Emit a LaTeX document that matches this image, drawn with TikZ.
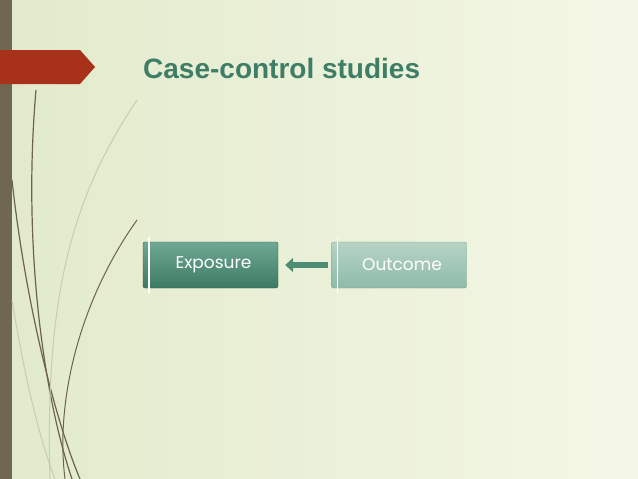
\documentclass[tikz,border=0pt]{standalone}
\usetikzlibrary{arrows.meta}
\usepackage{fontspec}
\setmainfont{Liberation Sans}
\newfontfamily\boxfont{Poppins}
\definecolor{bgA}{HTML}{E2EACB}
\definecolor{bgB}{HTML}{F4F7E6}
\definecolor{barc}{HTML}{6F6751}
\definecolor{bannerc}{HTML}{A8311A}
\definecolor{titlec}{HTML}{3F7E66}
\definecolor{bladec}{HTML}{6B6449}
\definecolor{bladel}{HTML}{C9CDAE}
\definecolor{expT}{HTML}{6FA893}
\definecolor{expB}{HTML}{3D7A64}
\definecolor{expD}{HTML}{2E5E4D}
\definecolor{outT}{HTML}{B7D3C6}
\definecolor{outB}{HTML}{8EBBA8}
\definecolor{outD}{HTML}{7AA190}
\definecolor{arrc}{HTML}{4E8C74}
\begin{document}
\begin{tikzpicture}[x=1pt,y=-1pt,
  blade/.style={draw=#1,line width=1pt},
  box/.style={draw=#1,rounded corners=2pt,minimum width=135pt,minimum height=46pt,inner sep=0pt,font=\boxfont\fontsize{17}{20}\selectfont,text=white},
]
\shade[left color=bgA, right color=bgB] (0,0) rectangle (638,479);
\useasboundingbox (0,0) rectangle (638,479);
\fill[barc] (0,0) rectangle (12,479);
% blades
\draw[blade=bladec, line width=1.2pt] (36,90) .. controls (22,250) and (45,400) .. (72,479);
\draw[blade=bladec, line width=1.2pt] (12,180) .. controls (25,300) and (55,420) .. (80,479);
\draw[blade=bladec] (137,220) .. controls (80,300) and (55,400) .. (65,479);
\draw[blade=bladel] (137,100) .. controls (70,200) and (45,300) .. (50,479);
\draw[blade=bladel] (12,300) .. controls (25,380) and (40,440) .. (55,479);
% banner
\fill[bannerc] (0,50) -- (80,50) -- (95,67) -- (80,84) -- (0,84) -- cycle;
\node[anchor=base west, inner sep=0pt, font=\bfseries\fontsize{28}{30}\selectfont, text=titlec] (title) at (143,78) {Case-control studies};
% boxes
\node[box=expD, top color=expT, bottom color=expB] (exp) at (210.5,265) {\hspace*{6pt}Exposure};
\node[box=outD, top color=outT, bottom color=outB] (out) at (399,265) {\hspace*{6pt}Outcome};
\draw[white, line width=1.5pt] ([xshift=6pt,yshift=5pt]exp.north west) -- ([xshift=6pt,yshift=-5pt]exp.south west);
\draw[white, line width=1.5pt] ([xshift=6pt,yshift=5pt]out.north west) -- ([xshift=6pt,yshift=-5pt]out.south west);
\draw[-{Triangle[length=8pt,width=14pt]}, line width=6pt, arrc] ([xshift=-3pt]out.west) -- ([xshift=7pt]exp.east);
\end{tikzpicture}
\end{document}
